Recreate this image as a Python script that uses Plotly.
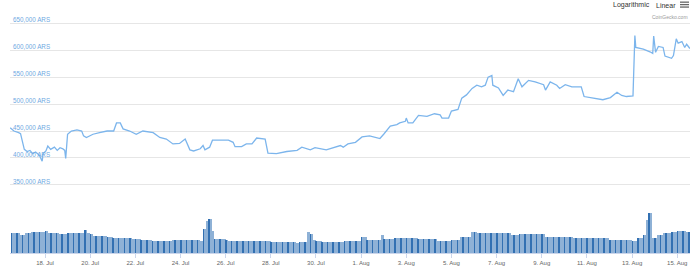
import plotly.graph_objects as go
import pandas as pd

# ---------------- data ----------------
price_times = [
    "2019-07-16 11:00", "2019-07-16 15:00", "2019-07-16 20:00", "2019-07-16 22:00",
    "2019-07-17 02:00", "2019-07-17 05:00", "2019-07-17 08:00", "2019-07-17 11:00",
    "2019-07-17 14:00", "2019-07-17 18:00", "2019-07-17 21:00", "2019-07-17 22:00",
    "2019-07-18 01:00", "2019-07-18 03:00", "2019-07-18 06:00", "2019-07-18 10:00",
    "2019-07-18 13:00", "2019-07-18 16:00", "2019-07-18 19:00", "2019-07-18 21:00",
    "2019-07-18 22:00", "2019-07-19 00:00", "2019-07-19 04:00", "2019-07-19 10:00",
    "2019-07-19 15:00", "2019-07-19 17:00", "2019-07-19 20:00", "2019-07-20 03:00",
    "2019-07-20 10:00", "2019-07-20 18:00", "2019-07-21 01:00", "2019-07-21 04:00",
    "2019-07-21 08:00", "2019-07-21 11:00", "2019-07-21 18:00", "2019-07-22 01:00",
    "2019-07-22 08:00", "2019-07-22 19:00", "2019-07-23 02:00", "2019-07-23 09:00",
    "2019-07-23 16:00", "2019-07-23 23:00", "2019-07-24 05:00", "2019-07-24 10:00",
    "2019-07-24 14:00", "2019-07-24 21:00", "2019-07-25 00:00", "2019-07-25 02:00",
    "2019-07-25 07:00", "2019-07-25 10:00", "2019-07-25 18:00", "2019-07-26 03:00",
    "2019-07-26 08:00", "2019-07-26 10:00", "2019-07-26 17:00", "2019-07-26 22:00",
    "2019-07-27 04:00", "2019-07-27 09:00", "2019-07-27 18:00", "2019-07-27 21:00",
    "2019-07-28 06:00", "2019-07-28 17:00", "2019-07-29 04:00", "2019-07-29 09:00",
    "2019-07-29 18:00", "2019-07-29 23:00", "2019-07-30 11:00", "2019-07-31 02:00",
    "2019-07-31 05:00", "2019-07-31 10:00", "2019-07-31 18:00", "2019-08-01 01:00",
    "2019-08-01 09:00", "2019-08-01 15:00", "2019-08-01 20:00", "2019-08-02 00:00",
    "2019-08-02 07:00", "2019-08-02 14:00", "2019-08-02 17:00", "2019-08-02 23:00",
    "2019-08-03 00:00", "2019-08-03 02:00", "2019-08-03 07:00", "2019-08-03 13:00",
    "2019-08-03 22:00", "2019-08-04 06:00", "2019-08-04 12:00", "2019-08-04 14:00",
    "2019-08-04 21:00", "2019-08-05 00:00", "2019-08-05 07:00", "2019-08-05 11:00",
    "2019-08-05 16:00", "2019-08-05 22:00", "2019-08-06 03:00", "2019-08-06 08:00",
    "2019-08-06 12:00", "2019-08-06 15:00", "2019-08-06 19:00", "2019-08-06 20:00",
    "2019-08-07 02:00", "2019-08-07 07:00", "2019-08-07 12:00", "2019-08-07 18:00",
    "2019-08-07 23:00", "2019-08-08 03:00", "2019-08-08 10:00", "2019-08-08 17:00",
    "2019-08-09 02:00", "2019-08-09 04:00", "2019-08-09 09:00", "2019-08-09 16:00",
    "2019-08-09 19:00", "2019-08-10 01:00", "2019-08-10 08:00", "2019-08-10 13:00",
    "2019-08-10 18:00", "2019-08-10 21:00", "2019-08-11 03:00", "2019-08-11 10:00",
    "2019-08-11 17:00", "2019-08-12 01:00", "2019-08-12 08:00", "2019-08-12 13:00",
    "2019-08-12 18:00", "2019-08-13 01:00", "2019-08-13 03:00", "2019-08-13 04:00",
    "2019-08-13 12:00", "2019-08-13 19:00", "2019-08-13 22:00", "2019-08-13 23:00",
    "2019-08-14 01:00", "2019-08-14 04:00", "2019-08-14 09:00", "2019-08-14 11:00",
    "2019-08-14 18:00", "2019-08-14 20:00", "2019-08-14 23:00", "2019-08-15 01:00",
    "2019-08-15 05:00", "2019-08-15 08:00", "2019-08-15 10:00", "2019-08-15 13:30",
]
price_values = [
    456000, 450000, 447000, 445000,
    416000, 412000, 414000, 408000,
    411000, 405000, 394000, 408000,
    413000, 422000, 416000, 420000,
    414000, 419000, 417000, 414000,
    399000, 444000, 450000, 452000,
    450000, 441000, 438000, 444000,
    447000, 450000, 450000, 465000,
    465000, 454000, 450000, 444000,
    450000, 447000, 438000, 435000,
    426000, 427000, 435000, 415000,
    413000, 417000, 423000, 415000,
    420000, 433000, 433000, 433000,
    429000, 421000, 421000, 426000,
    426000, 437000, 435000, 409000,
    408000, 412000, 414000, 420000,
    415000, 419000, 415000, 423000,
    420000, 426000, 429000, 439000,
    441000, 438000, 436000, 444000,
    459000, 462000, 465000, 468000,
    474000, 465000, 465000, 479000,
    477000, 482000, 480000, 474000,
    474000, 487000, 490000, 511000,
    517000, 529000, 535000, 532000,
    535000, 550000, 553000, 535000,
    530000, 516000, 526000, 523000,
    547000, 532000, 544000, 541000,
    536000, 526000, 541000, 535000,
    529000, 536000, 532000, 532000,
    532000, 514000, 512000, 511000,
    508000, 512000, 522000, 516000,
    514000, 515000, 627000, 605000,
    602000, 597000, 594000, 626000,
    596000, 607000, 605000, 589000,
    585000, 590000, 621000, 613000,
    616000, 605000, 611000, 603000,
]

# volume, 3-hour bins starting 16 Jul 2019 12:00 (relative units)
volume_start = "2019-07-16 12:00"
volume_values = [
    20, 20, 20, 18,                              # 16 Jul (12h-21h)
    18, 20, 20, 21, 21, 21, 21, 21,              # 17 Jul
    22, 20.5, 20.5, 20.5, 20, 19, 19, 19,        # 18 Jul
    20, 20, 20, 20, 20, 20, 23, 20,              # 19 Jul
    19.6, 17, 17, 17, 17, 17, 16.6, 16.6,        # 20 Jul
    15, 15, 15, 15, 15, 15, 15, 14,              # 21 Jul
    14, 14, 13, 13, 13, 13, 12.5, 12,            # 22 Jul
    12, 12, 12, 12, 12, 13, 13.6, 13.6,          # 23 Jul
    13.6, 13.6, 13.5, 13, 13, 13, 13, 12,        # 24 Jul
    24, 33, 35, 22, 14.5, 14, 14, 14,            # 25 Jul
    13, 12, 12, 12, 12, 12, 12, 12,              # 26 Jul
    12, 12, 12, 12, 12, 12, 12, 12,              # 27 Jul
    11.6, 11.6, 11.6, 11.6, 11.6, 11.6, 11.6, 11.6,  # 28 Jul
    11.6, 10, 11.6, 11.6, 11.6, 21.6, 19, 13,    # 29 Jul
    12, 12, 11, 11, 11, 11, 11, 11,              # 30 Jul
    11, 11, 12, 12, 12, 12, 12, 12,              # 31 Jul
    16, 16, 13, 13, 13, 13, 13, 18,              # 1 Aug
    14, 14, 14, 14, 15, 15, 15, 15,              # 2 Aug
    15, 15, 15, 15, 14, 14, 14, 14,              # 3 Aug
    14, 14, 14, 12.7, 12.7, 12.7, 12.7, 12.7,    # 4 Aug
    13, 13, 13, 16, 16, 16.6, 16.6, 21,          # 5 Aug
    21, 20, 20, 20, 20, 20, 20, 20,              # 6 Aug
    20, 20, 20, 20, 20, 18, 18, 18,              # 7 Aug
    19, 19, 19, 19, 19, 19, 19, 19,              # 8 Aug
    19, 16.6, 16.6, 16.6, 16.6, 16.6, 16.6, 16.6,  # 9 Aug
    16.6, 16.6, 16.6, 15.6, 15.6, 15.6, 15.6, 15,  # 10 Aug
    15, 15, 15, 15, 15, 15, 15, 15,              # 11 Aug
    13, 13, 13, 13, 13, 13, 13, 13,              # 12 Aug
    12, 12.5, 15, 15, 18, 34, 41, 15.6,          # 13 Aug
    15.6, 18, 18, 20, 20, 20, 21.6, 21.6,        # 14 Aug
    22, 22, 22, 21.6, 21.6,                      # 15 Aug
]

price_ticks = [350000, 400000, 450000, 500000, 550000, 600000, 650000]
price_tick_labels = [f"{v:,} ARS" for v in price_ticks]

# ---------------- figure ----------------
volume_times = pd.date_range(volume_start, periods=len(volume_values), freq="3h")
HOUR_MS = 3600 * 1000

fig = go.Figure()

fig.add_trace(go.Bar(
    x=volume_times, y=volume_values, yaxis="y2",
    width=3 * HOUR_MS * 0.999, offset=0,
    marker=dict(color="rgb(142,177,214)", line=dict(width=0)),
    hoverinfo="skip", showlegend=False,
))
fig.add_trace(go.Bar(
    x=volume_times[::2], y=volume_values[::2], yaxis="y2",
    width=0.6 * HOUR_MS, offset=0,
    marker=dict(color="rgb(50,112,178)", line=dict(width=0)),
    hoverinfo="skip", showlegend=False,
))
fig.add_trace(go.Scatter(
    x=pd.to_datetime(price_times), y=price_values, mode="lines",
    line=dict(color="#7cb5ec", width=1.3),
    showlegend=False,
))

W, H = 700, 276
L, R, T, B = 10, 10, 10, 18
pw, ph = W - L - R, H - T - B


def px(xp):
    return (xp - L) / pw


def py(yp):
    return (H - B - yp) / ph


y_label_annotations = [
    dict(text=lbl, x=0.002, y=v, xref="paper", yref="y",
         xanchor="left", yanchor="middle", yshift=3.5, showarrow=False,
         font=dict(size=6.3, color="#6fa9e2"))
    for v, lbl in zip(price_ticks, price_tick_labels)
]

fig.update_layout(
    width=W, height=H,
    margin=dict(l=L, r=R, t=T, b=B, pad=0),
    paper_bgcolor="white", plot_bgcolor="white",
    barmode="overlay", bargap=0,
    font=dict(family="Liberation Sans, Arial, sans-serif", size=6, color="#666666"),
    xaxis=dict(
        type="date",
        range=["2019-07-16 10:48", "2019-08-15 13:36"],
        tick0="2019-07-18", dtick=2 * 24 * HOUR_MS,
        tickformat="%-d. %b",
        showgrid=False, zeroline=False,
        showline=True, linecolor="#ccd6eb", linewidth=1,
        ticks="outside", ticklen=4, tickcolor="#ccd6eb",
        tickfont=dict(size=6, color="#666666"),
    ),
    yaxis=dict(
        range=[223636, 674545],
        tickmode="array",
        tickvals=price_ticks,
        showticklabels=False,
        showgrid=True, gridcolor="#e6e6e6", gridwidth=1,
        zeroline=False, showline=False, ticks="",
    ),
    yaxis2=dict(
        overlaying="y", range=[0, ph],
        showgrid=False, showticklabels=False, zeroline=False, showline=False,
    ),
    annotations=y_label_annotations + [
        dict(text="Logarithmic", x=px(611), y=py(5), xref="paper", yref="paper",
             xanchor="left", yanchor="middle", showarrow=False,
             font=dict(size=7, color="#333333")),
        dict(text="Linear", x=px(654), y=py(5), xref="paper", yref="paper",
             xanchor="left", yanchor="middle", showarrow=False,
             font=dict(size=7, color="#333333")),
        dict(text="CoinGecko.com", x=px(690), y=py(17), xref="paper", yref="paper",
             xanchor="right", yanchor="middle", showarrow=False,
             font=dict(size=5, color="#999999")),
    ],
    shapes=[
        dict(type="line", xref="paper", yref="paper", x0=px(680), x1=px(689),
             y0=py(yy), y1=py(yy), line=dict(color="#666666", width=1.3))
        for yy in (2, 4.5, 7)
    ],
)

fig.write_html("out.html")
